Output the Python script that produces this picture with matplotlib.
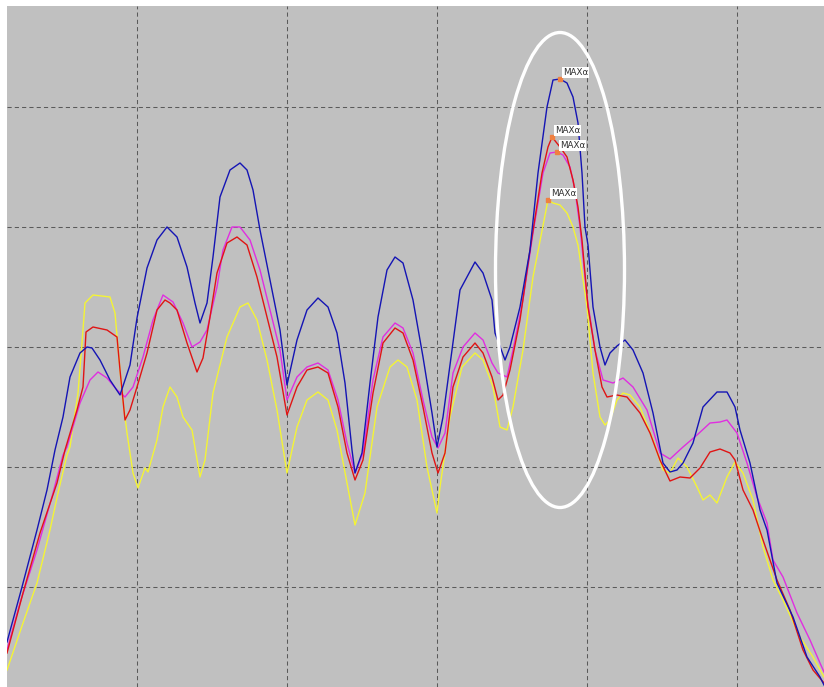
import numpy as np
import matplotlib.pyplot as plt
from matplotlib.patches import Ellipse

# sample position and amplitude for each trace
blue_x = [7, 22, 37, 47, 55, 63, 70, 80, 87, 92, 100, 110, 120, 130, 137, 147, 157, 167, 177, 187,
          195, 200, 207, 213, 220, 230, 240, 247, 253, 260, 270, 280, 287, 297, 307, 318, 328, 337, 345, 352,
          355, 362, 370, 378, 387, 395, 403, 413, 423, 432, 437, 443, 452, 460, 475, 483, 492, 495, 505, 510,
          520, 530, 538, 547, 553, 560, 567, 573, 578, 582, 585, 588, 593, 600, 605, 610, 617, 625, 633, 643,
          653, 663, 670, 677, 683, 693, 703, 717, 727, 735, 740, 750, 760, 767, 777, 793, 807, 820, 824]
blue_y = [45, 100, 157, 197, 237, 270, 310, 334, 340, 339, 327, 307, 292, 322, 369, 419, 447, 460, 450, 420,
          384, 364, 384, 430, 490, 517, 524, 517, 497, 457, 407, 357, 302, 347, 377, 389, 380, 354, 304, 237,
          214, 234, 304, 370, 417, 430, 424, 387, 330, 274, 240, 270, 337, 397, 425, 414, 387, 354, 327, 340,
          380, 437, 514, 580, 607, 608, 604, 590, 564, 514, 460, 442, 380, 340, 322, 334, 341, 347, 337, 314,
          274, 224, 215, 217, 224, 244, 280, 295, 295, 280, 257, 224, 177, 157, 104, 70, 30, 10, 2]

red_x = [7, 23, 40, 57, 65, 77, 83, 86, 93, 107, 117, 120, 125, 130, 137, 147, 157, 165, 170, 177,
         187, 197, 203, 210, 217, 227, 237, 247, 257, 267, 277, 287, 297, 307, 318, 328, 338, 347, 355, 363,
         373, 383, 395, 403, 413, 423, 432, 438, 445, 453, 463, 475, 483, 492, 498, 503, 510, 520, 530, 542,
         548, 552, 560, 567, 573, 578, 582, 588, 595, 602, 607, 617, 627, 640, 650, 660, 670, 680, 690, 700,
         710, 720, 730, 735, 743, 753, 763, 777, 790, 803, 813, 824]
red_y = [34, 94, 154, 204, 237, 277, 300, 355, 360, 357, 350, 317, 267, 277, 300, 334, 377, 387, 384, 377,
         344, 315, 329, 370, 414, 444, 450, 442, 410, 370, 330, 272, 300, 317, 320, 314, 280, 234, 207, 227,
         294, 344, 359, 354, 327, 280, 234, 214, 234, 300, 330, 344, 334, 310, 287, 292, 317, 367, 437, 514,
         540, 550, 540, 530, 507, 480, 447, 380, 337, 300, 290, 292, 290, 274, 254, 227, 206, 210, 209, 219,
         235, 238, 234, 227, 197, 177, 147, 107, 77, 37, 17, 4]

magenta_x = [7, 20, 37, 53, 63, 67, 80, 90, 98, 107, 117, 125, 133, 143, 153, 163, 173, 183, 192, 200,
             207, 217, 223, 232, 240, 250, 260, 270, 280, 287, 297, 307, 318, 328, 338, 347, 355, 363, 373, 383,
             395, 403, 413, 423, 432, 438, 445, 453, 463, 475, 483, 492, 498, 507, 513, 523, 533, 543, 550, 557,
             563, 570, 575, 580, 587, 595, 603, 613, 623, 633, 647, 660, 670, 683, 697, 710, 720, 727, 737, 747,
             757, 767, 773, 783, 797, 810, 820, 824]
magenta_y = [37, 84, 137, 194, 232, 240, 284, 307, 315, 309, 297, 290, 300, 330, 367, 392, 385, 364, 340, 345,
             357, 400, 437, 460, 460, 447, 417, 377, 337, 287, 310, 320, 324, 317, 287, 244, 214, 234, 307, 350,
             364, 359, 334, 287, 250, 239, 254, 314, 340, 354, 347, 324, 314, 310, 337, 387, 454, 514, 534, 535,
             532, 520, 497, 460, 390, 337, 307, 304, 309, 300, 277, 234, 228, 240, 252, 264, 265, 267, 254, 224,
             190, 164, 127, 110, 74, 47, 24, 15]

yellow_x = [7, 23, 37, 50, 58, 67, 70, 78, 82, 85, 93, 110, 115, 122, 127, 133, 138, 145, 148, 157,
            163, 170, 177, 183, 192, 200, 205, 213, 227, 240, 248, 257, 267, 277, 287, 297, 307, 318, 328, 337,
            347, 355, 365, 377, 390, 398, 407, 417, 427, 437, 440, 450, 462, 475, 483, 493, 500, 507, 513, 523,
            533, 548, 553, 560, 567, 573, 578, 587, 593, 600, 605, 610, 617, 623, 630, 640, 653, 663, 670, 678,
            687, 697, 703, 710, 717, 727, 735, 743, 753, 763, 773, 783, 800, 813, 824]
yellow_y = [17, 64, 104, 157, 194, 232, 240, 294, 344, 384, 392, 390, 374, 294, 254, 214, 199, 219, 215, 247,
            280, 300, 290, 270, 257, 210, 227, 294, 350, 380, 384, 367, 327, 277, 214, 260, 287, 295, 287, 257,
            204, 162, 194, 280, 320, 327, 320, 287, 220, 174, 200, 270, 320, 334, 327, 300, 260, 257, 280, 337,
            410, 487, 484, 482, 474, 460, 442, 380, 314, 270, 262, 267, 287, 294, 292, 280, 247, 217, 214, 229,
            220, 200, 187, 192, 184, 210, 225, 214, 187, 140, 107, 87, 50, 30, 10]

traces = [
    (yellow_x, yellow_y, '#f4f435'),
    (magenta_x, magenta_y, '#e02ee0'),
    (red_x, red_y, '#e01414'),
    (blue_x, blue_y, '#1414b4'),
]

W, H = 824, 687
fig = plt.figure(figsize=(W / 100, H / 100), dpi=100, facecolor='white')
ax = fig.add_axes([7 / W, 0, (W - 7) / W, (H - 6) / H])
ax.set_facecolor('#c0c0c0')
ax.set_xlim(7, 824)
ax.set_ylim(0, 681)

ax.set_xticks([137, 287, 437, 587, 737])
ax.set_yticks([100, 220, 340, 460, 580])
ax.grid(True, color='#5a5a5a', linewidth=0.75, linestyle=(0, (4, 3)))
ax.tick_params(length=0, labelbottom=False, labelleft=False)
for s in ax.spines.values():
    s.set_visible(False)

for xs, ys, c in traces:
    ax.plot(xs, ys, color=c, linewidth=1.0)

# peak markers with their labels
for xs, ys, c in traces:
    i = int(np.argmax(ys))
    ax.plot(xs[i], ys[i], 's', color='#f08040', markersize=2.5, zorder=4)
    ax.annotate('MAXα', xy=(xs[i], ys[i]), xytext=(3, 2), textcoords='offset pixels',
                ha='left', va='bottom', fontsize=6.3, color='#303030', zorder=5,
                bbox=dict(boxstyle='square,pad=0.12', fc='white', ec='none'))

ax.add_patch(Ellipse((560, 417), 129, 475, fill=False, edgecolor='white', linewidth=2.4, zorder=3))

fig.savefig('out.png', dpi=100, facecolor=fig.get_facecolor())
